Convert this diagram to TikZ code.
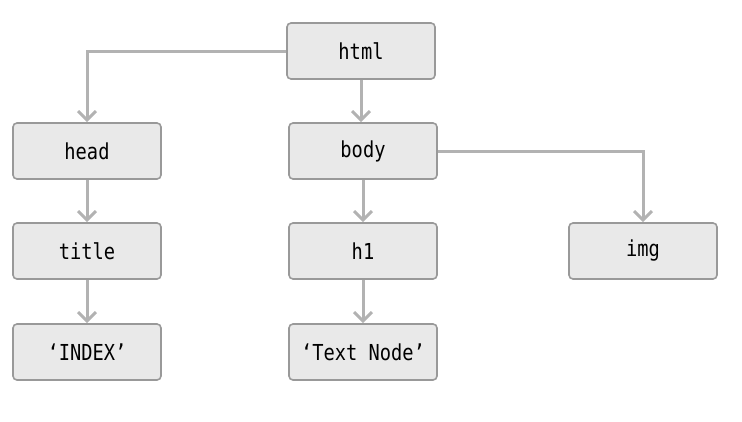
\documentclass[tikz,border=0pt]{standalone}
\usepackage{fontspec}
\setmonofont[FakeStretch=0.85]{DejaVu Sans Mono}
\usepackage{xcolor}
\usetikzlibrary{arrows.meta}
\definecolor{boxfill}{HTML}{E9E9E9}
\definecolor{boxline}{HTML}{999999}
\definecolor{linkgray}{HTML}{B2B2B2}
\begin{document}
\begin{tikzpicture}[x=1pt,y=-1pt,
    tag/.style={draw=boxline,line width=1.6pt,fill=boxfill,rounded corners=4pt,
      minimum width=148pt,minimum height=56pt,inner sep=0pt,
      font=\ttfamily\fontsize{22}{22}\selectfont},
    link/.style={draw=linkgray,line width=3pt,
      -{Straight Barb[length=9pt,width=18pt,line width=3pt]}}]
    \useasboundingbox (0,0) rectangle (742,421);
    \node[tag] (html) at (361,51) {html};
    \node[tag] (head) at (87,151) {head};
    \node[tag] (body) at (363,151) {body};
    \node[tag] (title) at (87,251) {title};
    \node[tag] (h1) at (363,251) {h1};
    \node[tag] (img) at (643,251) {img};
    \node[tag] (index) at (87,352) {‘INDEX’};
    \node[tag] (text) at (363,352) {‘Text Node’};
    %
    \draw[link] (html.west) -| (head.north);
    \draw[link] (html.south) -- (html.south |- body.north);
    \draw[link] (body.east) -| (img.north);
    \draw[link] (head.south) -- (title.north);
    \draw[link] (title.south) -- (index.north);
    \draw[link] (body.south) -- (h1.north);
    \draw[link] (h1.south) -- (text.north);
  \end{tikzpicture}
\end{document}
